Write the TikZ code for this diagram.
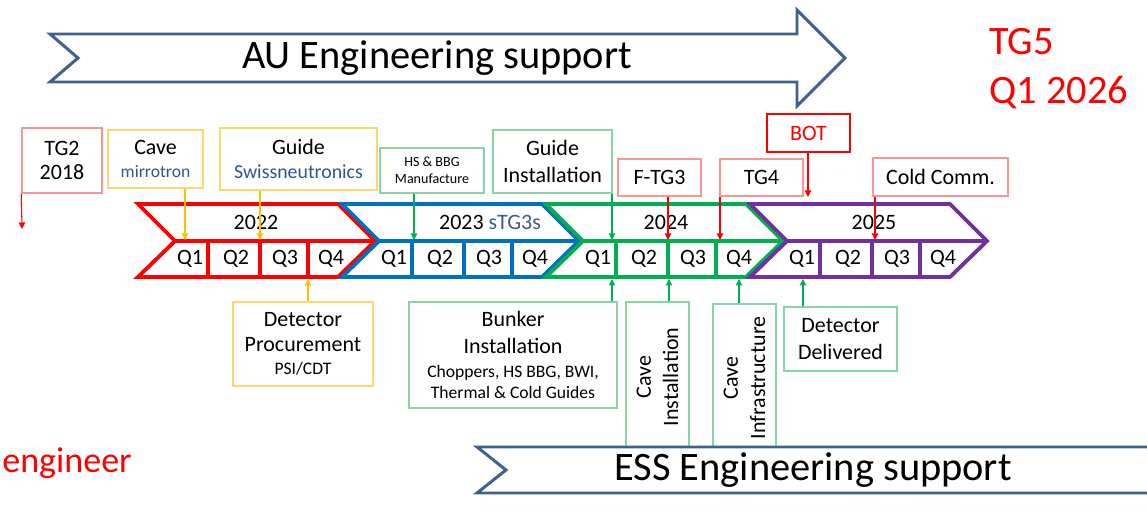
\documentclass[tikz,border=0pt]{standalone}
\usepackage{fontspec}
\setmainfont{Carlito}
\usetikzlibrary{arrows.meta}

\definecolor{sbar}{RGB}{64,97,142}
\definecolor{cred}{RGB}{255,0,0}
\definecolor{cblue}{RGB}{0,112,192}
\definecolor{cgreen}{RGB}{0,176,80}
\definecolor{cpurple}{RGB}{112,48,160}
\definecolor{lred}{RGB}{246,150,150}
\definecolor{lyel}{RGB}{255,214,110}
\definecolor{lgrn}{RGB}{135,212,165}
\definecolor{ayel}{RGB}{255,192,0}
\definecolor{stg}{RGB}{60,90,150}
\definecolor{nblue}{RGB}{47,85,151}

\begin{document}
\begin{tikzpicture}[x=0.02cm, y=-0.02cm, >={Triangle[length=1.3mm,width=1.3mm]},
	every node/.style={font=\fontsize{12.5}{14.5}\selectfont, inner sep=0pt},
	msbox/.style={draw, line width=0.8pt, fill=white, align=center},
	rbox/.style={msbox, draw=lred}, ybox/.style={msbox, draw=lyel}, gbox/.style={msbox, draw=lgrn},
	rarr/.style={->, cred, line width=0.6pt}, yarr/.style={->, ayel, line width=0.6pt}, garr/.style={->, cgreen, line width=0.6pt},
	bigtxt/.style={font=\fontsize{23}{29}\selectfont},
	band/.style={draw=sbar, line width=1.7pt, fill=white, line join=miter}]
	\useasboundingbox (0,0) rectangle (1147,513);

	% AU support arrow
	\draw[band] (50,34) -- (797,34) -- (797,10) -- (845,58) -- (797,106) -- (797,82) -- (50,82) -- (78,58) -- cycle;
	\node[bigtxt] (au) at (437,58) {AU Engineering support};
	\node[bigtxt, anchor=west, cred] (tg5) at (989,42) {TG5};
	\node[bigtxt, anchor=west, cred] (q126) at (989,93) {Q1 2026};
	\node[font=\fontsize{20.5}{24}\selectfont, anchor=base west, cred] (eng) at (2,472) {engineer};

	% year chevrons
	\foreach \L/\col/\lab/\lx in {138/cred/{2022}/118, 342/cblue/{2023 \textcolor{stg}{sTG3s}}/148, 546/cgreen/{2024}/120, 750/cpurple/{2025}/124} {
		\filldraw[fill=white, draw=\col, line width=2.2pt, line join=miter] (\L,204) -- ++(200,0) -- ++(37,37) -- ++(-37,36) -- ++(-200,0) -- ++(37,-36) -- cycle;
		\draw[\col, line width=2.2pt] (\L+37,241) -- (\L+237,241);
		\foreach \d in {70,122,170}
			\draw[\col, line width=2.2pt] (\L+\d,241) -- (\L+\d,277);
		\node (yr\L) at (\L+\lx,222) {\lab};
		\node (q\L-1) at (\L+52,259) {Q1};
		\node (q\L-2) at (\L+98,259) {Q2};
		\node (q\L-3) at (\L+147,259) {Q3};
		\node (q\L-4) at (\L+193,259) {Q4};
	}

	% milestones above
	\node[rbox, minimum width=1.6cm, minimum height=1.3cm] (tg2) at (62,160.5) {TG2\\[-0.5pt]2018};
	\node[ybox, minimum width=1.9cm, minimum height=1.16cm] (cave) at (155.5,159) {Cave\\[-1pt]{\fontsize{10}{12}\selectfont\textcolor{nblue}{mirrotron}}};
	\node[ybox, minimum width=3.14cm, minimum height=1.24cm] (guide) at (298.5,159) {Guide\\[-1pt]{\fontsize{11.3}{13}\selectfont\textcolor{nblue}{Swissneutronics}}};
	\node[gbox, minimum width=2.08cm, minimum height=0.9cm, font=\fontsize{8}{9.6}\selectfont] (hsb) at (432,170.5) {HS \& BBG\\Manufacture};
	\node[gbox, minimum width=2.38cm, minimum height=1.26cm] (ginst) at (552.5,161.5) {Guide\\[1pt]Installation};
	\node[rbox, minimum width=1.66cm, minimum height=0.74cm] (ftg3) at (659.5,177.5) {F-TG3};
	\node[rbox, minimum width=1.66cm, minimum height=0.74cm] (tg4) at (761.5,177.5) {TG4};
	\node[msbox, draw=cred, line width=1.6pt, minimum width=1.66cm, minimum height=0.76cm, text=cred] (bot) at (808.5,133) {BOT};
	\node[rbox, minimum width=2.7cm, minimum height=0.76cm] (cold) at (940.5,177) {Cold Comm.};

	\coordinate (e-tg2) at (22,229);
	\coordinate (e-cave) at (185,240);
	\coordinate (e-guide) at (260,240);
	\coordinate (e-hsb) at (414,240);
	\coordinate (e-ginst) at (612,240);
	\coordinate (e-ftg3) at (668,240);
	\coordinate (e-tg4) at (720,240);
	\coordinate (e-bot) at (808,197);
	\coordinate (e-cold) at (875,240);
	\draw[rarr] (tg2.south west) -- (e-tg2);
	\draw[yarr] (cave.south -| e-cave) -- (e-cave);
	\draw[yarr] (guide.south -| e-guide) -- (e-guide);
	\draw[garr] (hsb.south -| e-hsb) -- (e-hsb);
	\draw[garr] (ginst.south -| e-ginst) -- (e-ginst);
	\draw[rarr] (ftg3.south -| e-ftg3) -- (e-ftg3);
	\draw[rarr] (tg4.south -| e-tg4) -- (e-tg4);
	\draw[rarr] (bot.south -| e-bot) -- (e-bot);
	\draw[rarr] (cold.south -| e-cold) -- (e-cold);

	% milestones below
	\node[ybox, minimum width=2.8cm, minimum height=1.68cm] (detp) at (303,344) {Detector\\[0pt]Procurement\\[-1.5pt]{\fontsize{10}{12}\selectfont PSI/CDT}};
	\node[gbox, minimum width=4.16cm, minimum height=2.12cm] (bunk) at (513,355) {Bunker\\[0.5pt]Installation\\[-0.5pt]{\fontsize{10}{12}\selectfont Choppers, HS BBG, BWI,}\\[-3pt]{\fontsize{10}{12}\selectfont Thermal \& Cold Guides}};
	\node[gbox, rotate=90, minimum width=3.0cm, minimum height=1.26cm] (cinst) at (657.5,377) {Cave\\[1pt]Installation};
	\node[gbox, rotate=90, minimum width=2.96cm, minimum height=1.26cm] (cinf) at (744.5,378) {Cave\\[1pt]Infrastructure};
	\node[gbox, minimum width=2.26cm, minimum height=1.28cm] (detd) at (840.5,339) {Detector\\[1pt]Delivered};

	\coordinate (e-detp) at (308,279);
	\coordinate (e-bunk) at (612,279);
	\coordinate (e-cinst) at (669,279);
	\coordinate (e-cinf) at (739,279);
	\coordinate (e-detd) at (803,279);
	\draw[yarr] (detp.north -| e-detp) -- (e-detp);
	\draw[garr] (bunk.north -| e-bunk) -- (e-bunk);
	\draw[garr] (cinst.east -| e-cinst) -- (e-cinst);
	\draw[garr] (cinf.east -| e-cinf) -- (e-cinf);
	\draw[garr] (detd.north -| e-detd) -- (e-detd);

	% ESS support arrow
	\draw[band] (477,447) -- (1170,447) -- (1170,493) -- (477,493) -- (506,470) -- cycle;
	\node[bigtxt] (ess) at (813,470) {ESS Engineering support};
\end{tikzpicture}
\end{document}
